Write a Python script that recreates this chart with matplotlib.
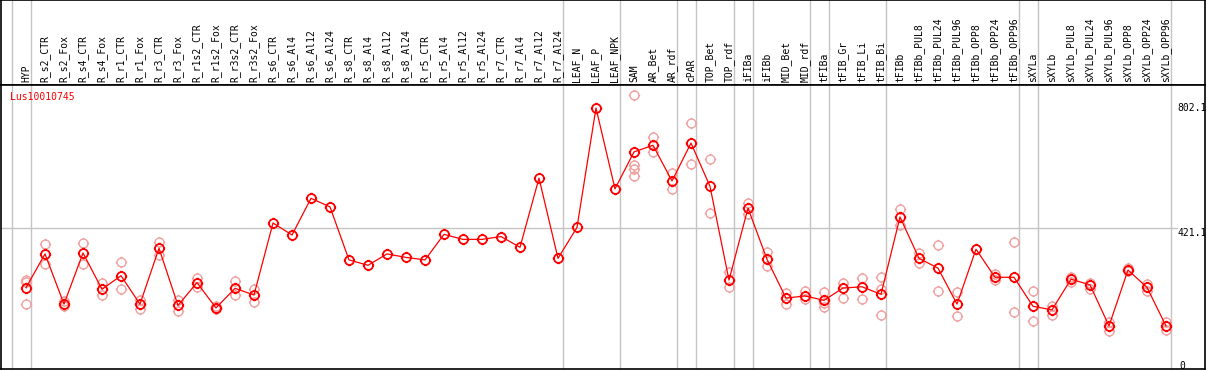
import numpy as np
import matplotlib
matplotlib.use("Agg")
import matplotlib.pyplot as plt
from matplotlib.path import Path

# sample names along the top
samples = ["HYP", "R_s2_CTR", "R_s2_Fox", "R_s4_CTR", "R_s4_Fox", "R_r1_CTR", "R_r1_Fox",
           "R_r3_CTR", "R_r3_Fox", "R_r1s2_CTR", "R_r1s2_Fox", "R_r3s2_CTR", "R_r3s2_Fox",
           "R_s6_CTR", "R_s6_Al4", "R_s6_Al12", "R_s6_Al24", "R_s8_CTR", "R_s8_Al4",
           "R_s8_Al12", "R_s8_Al24", "R_r5_CTR", "R_r5_Al4", "R_r5_Al12", "R_r5_Al24",
           "R_r7_CTR", "R_r7_Al4", "R_r7_Al12", "R_r7_Al24", "LEAF_N", "LEAF_P", "LEAF_NPK",
           "SAM", "AR_Bet", "AR_rdf", "cPAR", "TOP_Bet", "TOP_rdf", "iFIBa", "iFIBb",
           "MID_Bet", "MID_rdf", "tFIBa", "tFIB_Gr", "tFIB_Li", "tFIB_Bi", "tFIBb",
           "tFIBb_PUL8", "tFIBb_PUL24", "tFIBb_PUL96", "tFIBb_OPP8", "tFIBb_OPP24",
           "tFIBb_OPP96", "sXYLa", "sXYLb", "sXYLb_PUL8", "sXYLb_PUL24", "sXYLb_PUL96",
           "sXYLb_OPP8", "sXYLb_OPP24", "sXYLb_OPP96"]

# mean expression per sample
means = [233, 340, 181, 343, 228, 271, 181, 358, 177, 249, 169, 231, 210,
         438, 400, 516, 489, 321, 304, 340, 329, 321, 402, 386, 386, 395, 361, 580, 326,
         424, 802.1, 546, 663, 684, 571, 691, 554, 257, 485, 323, 200, 207, 193, 232,
         236, 212, 457, 326, 295, 181, 355, 266, 266, 174, 163, 260, 242, 112, 289,
         234, 112]

# individual replicates per sample
replicates = [[256, 250, 181], [370, 307], [191, 175], [375, 308], [248, 211],
              [313, 228], [194, 167], [378, 337], [195, 160], [264, 234], [175, 166],
              [254, 209], [228, 189],
              [], [], [], [], [], [], [], [], [], [], [], [], [], [], [], [],
              [], [], [],
              [842.2, 623, 608, 586], [709, 662], [596, 546], [754, 624], [640, 469],
              [282, 234], [500, 466], [345, 303], [217, 182], [223, 196],
              [219, 184, 173], [249, 201], [264, 196], [266, 228, 148], [482, 433],
              [342, 312], [367, 222], [219, 144], [355], [276, 258], [378, 155],
              [222, 127], [176, 147], [266, 252], [249, 229], [125, 95], [296, 286],
              [244, 224], [125, 99]]

# last sample index of each tissue group (-1 = before first)
group_ends = [-1, 0, 28, 31, 34, 35, 37, 38, 41, 42, 45, 52, 53, 60]

gene = "Lus10010745"
y_labels = [802.1, 421.1, 0]

W, H = 1209, 370
fig = plt.figure(figsize=(W / 100, H / 100), dpi=100)
left = 1 / W
width = 1204 / W
head = fig.add_axes([left, (H - 85) / H, width, 85 / H])
ax = fig.add_axes([left, 1 / H, width, 284 / H])

x = np.arange(len(samples))
xlim = (-25 / 19, 60 + 39 / 19)
for a in (head, ax):
    a.set_xlim(*xlim)
    a.set_xticks([])
    a.set_yticks([])
    for s in a.spines.values():
        s.set_linewidth(1.2)
        s.set_color("black")
    for g in group_ends:
        a.axvline(g + 0.25, color="#c4c4c4", lw=1.0, zorder=0)
head.set_ylim(0, 1)
ax.set_ylim(-24.4, 874.9)

for i, name in enumerate(samples):
    head.text(i, 0.035, name, rotation=90, ha="center", va="bottom",
              family="DejaVu Sans Mono", fontsize=7)

# marker: open circle with four short ticks
circ = Path.unit_circle()
ticks = Path([(0, 1), (0, 1.28), (0, -1), (0, -1.28), (1, 0), (1.28, 0), (-1, 0), (-1.28, 0)],
             [Path.MOVETO, Path.LINETO] * 4)
mk = Path.make_compound_path(circ, ticks)

ax.axhline(y_labels[1], xmin=0, xmax=(1177 - 1) / 1204, color="#c4c4c4", lw=1.0, zorder=0)

rx = [i for i, r in enumerate(replicates) for _ in r]
ry = [v for r in replicates for v in r]
ax.plot(rx, ry, ls="none", marker=mk, ms=8.2, mfc="none", mec="#f0a0a0", mew=1.0, zorder=2)
ax.plot(x, means, color="red", lw=0.9, marker=mk, ms=8.2, mfc="none", mec="red",
        mew=1.3, zorder=3)

ax.text(9 / 1204, 0.957, gene, transform=ax.transAxes, color="red",
        family="DejaVu Sans Mono", fontsize=7, va="center", ha="left")

tx = (1177 - 1) / 1204
trans = ax.get_yaxis_transform()
ax.text(tx, y_labels[0], "802.1", transform=trans, family="DejaVu Sans Mono",
        fontsize=7, va="center", ha="left")
ax.text(tx, y_labels[1], "421.1", transform=trans, family="DejaVu Sans Mono",
        fontsize=7, va="top", ha="left")
ax.text(tx + 2 / 1204, y_labels[2], "0", transform=trans, family="DejaVu Sans Mono",
        fontsize=7, va="top", ha="left")

fig.savefig("out.png", dpi=100)
